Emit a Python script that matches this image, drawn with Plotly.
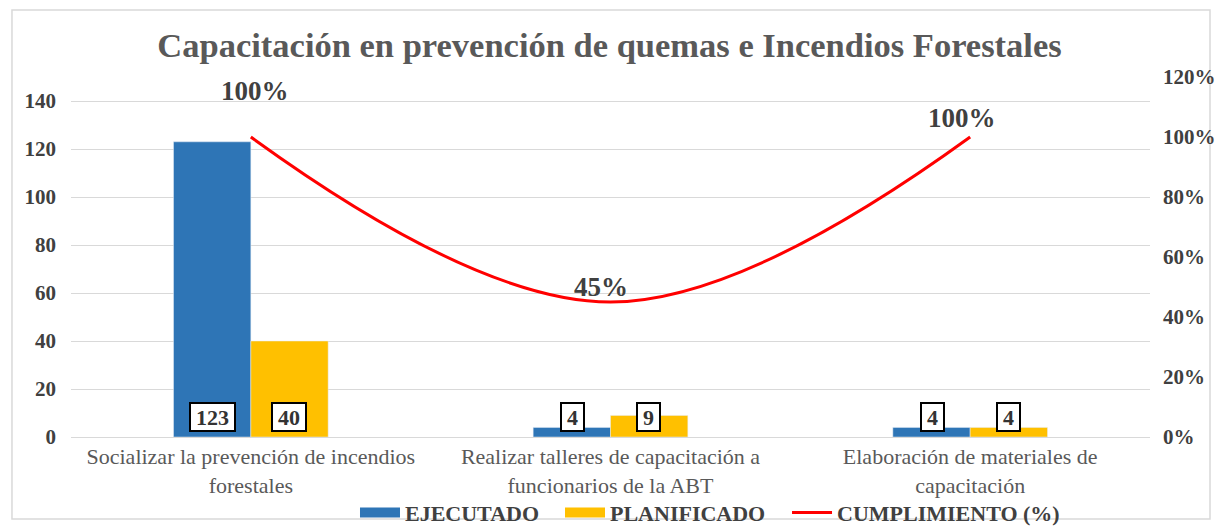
import plotly.graph_objects as go

categories = ["Socializar la prevención de incendios forestales",
              "Realizar talleres de capacitación a funcionarios de la ABT",
              "Elaboración de materiales de capacitación"]
tick_labels = ["Socializar la prevención de incendios<br>forestales",
               "Realizar talleres de capacitación a<br>funcionarios de la ABT",
               "Elaboración de materiales de<br>capacitación"]
ejecutado = [123, 4, 4]
planificado = [40, 9, 4]
cumplimiento = [1.00, 0.45, 1.00]
pct_labels = ["100%", "45%", "100%"]

BLUE = "#2E75B6"
GOLD = "#FFC000"
RED = "#FF0000"
SERIF = "Liberation Serif, Times New Roman, serif"

fig = go.Figure()
fig.add_trace(go.Bar(x=categories, y=ejecutado, name="EJECUTADO", marker_color=BLUE,
                     showlegend=False))
fig.add_trace(go.Bar(x=categories, y=planificado, name="PLANIFICADO", marker_color=GOLD,
                     showlegend=False))
fig.add_trace(go.Scatter(x=categories, y=cumplimiento, name="CUMPLIMIENTO (%)", yaxis="y2",
                         mode="lines", line=dict(color=RED, width=3, shape="spline", smoothing=1.1),
                         showlegend=False))
# legend entries (wide swatches like the original), one legend per item for spacing
fig.add_trace(go.Scatter(x=[None], y=[None], mode="lines", name="EJECUTADO",
                         line=dict(color=BLUE, width=10), legend="legend"))
fig.add_trace(go.Scatter(x=[None], y=[None], mode="lines", name="PLANIFICADO",
                         line=dict(color=GOLD, width=10), legend="legend2"))
fig.add_trace(go.Scatter(x=[None], y=[None], mode="lines", name="CUMPLIMIENTO (%)",
                         line=dict(color=RED, width=3), legend="legend3"))

annotations = []
for cat, e, p in zip(categories, ejecutado, planificado):
    for val, shift in ((e, -38), (p, 38)):
        txt = str(val)
        annotations.append(dict(x=cat, y=0, xref="x", yref="y", text=f"<b>{txt}</b>",
                                showarrow=False, xshift=shift, yshift=20,
                                width=11 * len(txt) + 4, height=20,
                                font=dict(family=SERIF, size=22, color="#333333"),
                                bgcolor="white", bordercolor="black", borderwidth=2, borderpad=3))
pct_shifts = [(4, 46), (-10, 15), (-8, 19)]
for cat, v, lab, (xs, ys) in zip(categories, cumplimiento, pct_labels, pct_shifts):
    annotations.append(dict(x=cat, y=v, xref="x", yref="y2", text=f"<b>{lab}</b>",
                            showarrow=False, xshift=xs, yshift=ys,
                            font=dict(family=SERIF, size=27, color="#404040")))

leg_common = dict(orientation="h", xanchor="left", y=-0.21, yanchor="middle",
                  font=dict(family=SERIF, size=22, color="#404040", weight="bold"),
                  bgcolor="rgba(0,0,0,0)", itemwidth=40)

fig.update_layout(
    width=1219, height=526,
    margin=dict(l=71, r=69, t=77, b=89, autoexpand=False),
    paper_bgcolor="white", plot_bgcolor="white",
    title=dict(text="<b>Capacitación en prevención de quemas e Incendios Forestales</b>",
               x=0.5, xanchor="center", y=0.915, yanchor="middle",
               font=dict(family=SERIF, size=34.5, color="#595959")),
    barmode="group", bargap=0.57, bargroupgap=0,
    font=dict(family=SERIF, color="#595959"),
    xaxis=dict(tickmode="array", tickvals=categories, ticktext=tick_labels,
               tickfont=dict(family=SERIF, size=22, color="#595959"),
               showgrid=False, showline=True, linecolor="#d9d9d9", ticks="",
               automargin=False),
    yaxis=dict(range=[0, 150], tickmode="array", tickvals=[0, 20, 40, 60, 80, 100, 120, 140],
               showgrid=True, gridcolor="#d9d9d9", zeroline=False,
               tickfont=dict(family=SERIF, size=21, color="#404040", weight="bold"),
               ticklabelstandoff=14, showline=False, automargin=False),
    yaxis2=dict(range=[0, 1.2], overlaying="y", side="right", tickformat=".0%", dtick=0.2,
                showgrid=False, zeroline=False,
                tickfont=dict(family=SERIF, size=21, color="#404040", weight="bold"),
                ticklabelstandoff=12, automargin=False),
    legend=dict(x=0.2632, **leg_common),
    legend2=dict(x=0.4532, **leg_common),
    legend3=dict(x=0.6636, **leg_common),
    annotations=annotations,
    shapes=[dict(type="rect", xref="paper", yref="paper",
                 x0=-0.0547, x1=1.0556, y0=-0.228, y1=1.186,
                 line=dict(color="#d9d9d9", width=1.5), layer="below")],
)

fig.write_html("out.html", config={"displayModeBar": False},
               post_script="document.body.style.margin='0';document.body.style.overflow='hidden';")
